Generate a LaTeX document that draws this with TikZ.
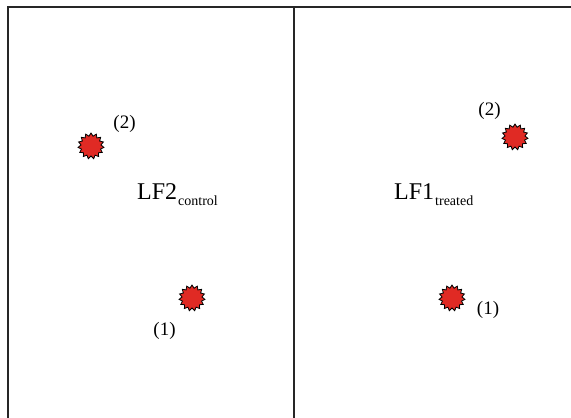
\documentclass[tikz,border=0pt]{standalone}
\usepackage{fontspec}
\setmainfont{Liberation Serif}
\usetikzlibrary{shapes.geometric}
\definecolor{spotred}{RGB}{224,42,36}
\tikzset{
  spot/.style={star, star points=15, star point ratio=1.3, minimum size=26pt, inner sep=0pt,
    fill=spotred, draw=black, line width=0.8pt},
  lbl/.style={font=\fontsize{19}{19}\selectfont, inner sep=0pt},
  lf/.style={font=\fontsize{24}{24}\selectfont, inner sep=0pt, anchor=base west},
  frame/.style={line width=1.3pt, draw=black!85}
}
\newcommand{\subtxt}[1]{\hspace{1pt}\raisebox{-6pt}{\fontsize{14}{14}\selectfont #1}}
\begin{document}
\begin{tikzpicture}[x=1pt,y=-1pt]
\useasboundingbox (0,0) rectangle (571,418);
\coordinate (tl) at (8,7);
\coordinate (tm) at (294,7);
\coordinate (tr) at (571,7);
\coordinate (bl) at (8,418);
\coordinate (bm) at (294,418);
\draw[frame] (bl) -- (tl) -- (tr);
\draw[frame] (tm) -- (bm);
% left panel
\node[spot] (s2l) at (91,146) {};
\node[spot] (s1l) at (192,298) {};
\node[lbl] (l2l) at (124.5,124) {(2)};
\node[lbl] (l1l) at (164.5,331) {(1)};
\node[lf] (lfa) at (137,199) {LF2\subtxt{control}};
% right panel
\node[spot] (s2r) at (515,137) {};
\node[spot] (s1r) at (452,298) {};
\node[lbl] (l2r) at (489.5,111) {(2)};
\node[lbl] (l1r) at (488,310) {(1)};
\node[lf] (lfb) at (394,199) {LF1\subtxt{treated}};
\end{tikzpicture}
\end{document}
